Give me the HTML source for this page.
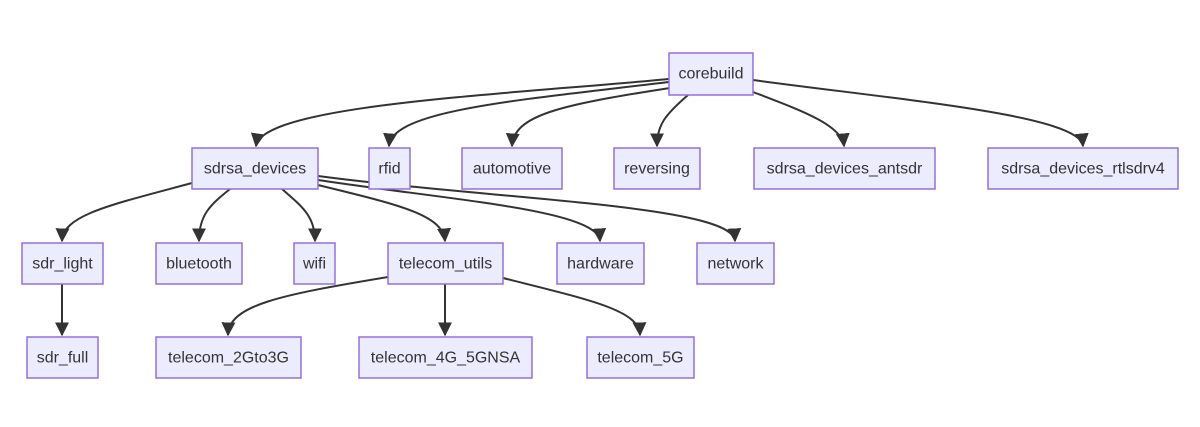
<!DOCTYPE html>
<html><head><style>
body{margin:0;background:#fff;}
svg{display:block}
text{font-family:"Liberation Sans",sans-serif;font-size:16px;fill:#333;text-anchor:middle;dominant-baseline:central}
rect{fill:#ECECFF;stroke:#9370DB;stroke-width:1.5}
path{fill:none;stroke:#333;stroke-width:2}
</style></head><body>
<svg width="1200" height="427" viewBox="0 0 1200 427">
<defs><marker id="a" viewBox="0 0 10 10" refX="9" refY="5" markerWidth="7" markerHeight="7" orient="auto" markerUnits="strokeWidth"><path d="M0,0L10,5L0,10z" style="fill:#333;stroke:none"/></marker></defs>
<g marker-end="url(#a)">
<path d="M669,79 C500,95 262,105 256,146"/>
<path d="M669,82 C520,100 392,110 389,146"/>
<path d="M670,88 C560,105 514,115 512,146"/>
<path d="M688,95 C665,115 657,125 657,146"/>
<path d="M753,92 C800,110 842,125 844,146"/>
<path d="M753,80 C900,100 1080,115 1083,146"/>
<path d="M192,183 C110,205 63,215 62,241"/>
<path d="M230,189 C210,205 199,215 199,241"/>
<path d="M282,189 C300,205 315,215 315,241"/>
<path d="M318,185 C400,205 443,215 445,241"/>
<path d="M318,180 C450,200 598,210 600,241"/>
<path d="M318,176 C500,200 733,205 735,241"/>
<path d="M62,284 L62,335"/>
<path d="M388,277 C280,295 229,305 228,335"/>
<path d="M445,284 L445,335"/>
<path d="M503,278 C590,300 639,310 640,335"/>
</g>
<rect x="669" y="53" width="84" height="42"/><text x="711" y="74">corebuild</text>
<rect x="192" y="148" width="126" height="41"/><text x="255" y="169">sdrsa_devices</text>
<rect x="369" y="148" width="41" height="41"/><text x="389.5" y="169">rfid</text>
<rect x="462" y="148" width="100" height="41"/><text x="512" y="169">automotive</text>
<rect x="614" y="148" width="86" height="41"/><text x="657" y="169">reversing</text>
<rect x="754" y="148" width="181" height="41"/><text x="844.5" y="169">sdrsa_devices_antsdr</text>
<rect x="988" y="148" width="190" height="41"/><text x="1083" y="169">sdrsa_devices_rtlsdrv4</text>
<rect x="22" y="243" width="81" height="41"/><text x="62.5" y="264">sdr_light</text>
<rect x="156" y="243" width="86" height="41"/><text x="199" y="264">bluetooth</text>
<rect x="294" y="243" width="41" height="41"/><text x="314.5" y="264">wifi</text>
<rect x="388" y="243" width="115" height="41"/><text x="445.5" y="264">telecom_utils</text>
<rect x="557" y="243" width="87" height="41"/><text x="600.5" y="264">hardware</text>
<rect x="697" y="243" width="77" height="41"/><text x="735.5" y="264">network</text>
<rect x="27" y="337" width="71" height="41"/><text x="62.5" y="358">sdr_full</text>
<rect x="156" y="337" width="145" height="41"/><text x="228.5" y="358">telecom_2Gto3G</text>
<rect x="359" y="337" width="173" height="41"/><text x="445.5" y="358">telecom_4G_5GNSA</text>
<rect x="587" y="337" width="107" height="41"/><text x="640.5" y="358">telecom_5G</text>
</svg>
</body></html>
